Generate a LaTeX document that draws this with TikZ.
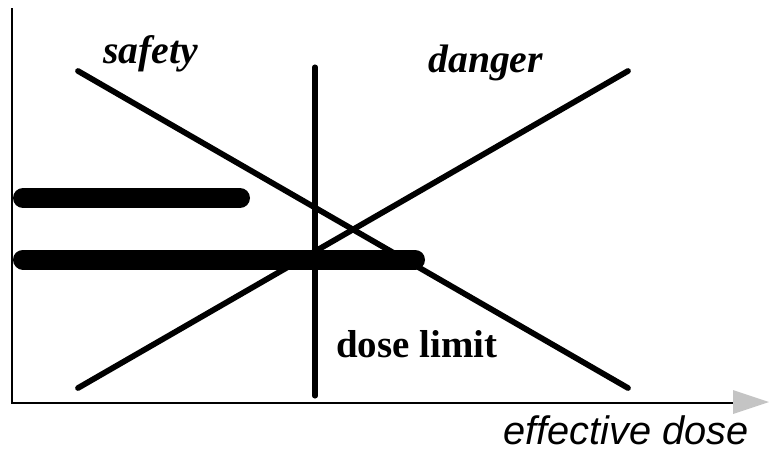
\documentclass[tikz,border=0pt]{standalone}
\usepackage{fontspec}
\setmainfont{Liberation Serif}
\setsansfont{Liberation Sans}
\definecolor{tipgray}{RGB}{196,196,196}
\begin{document}
\begin{tikzpicture}[x=0.75pt,y=-0.75pt,
  axis/.style={line width=2.2pt},
  curve/.style={line width=4.3pt,line cap=round},
  bar/.style={line width=15pt,line cap=round},
  lbl/.style={inner sep=0pt,anchor=base west},
  sflbl/.style={lbl,font=\fontsize{29.8}{31}\selectfont\bfseries\itshape},
  dlbl/.style={lbl,font=\fontsize{29.2}{31}\selectfont\bfseries},
  elbl/.style={lbl,font=\fontsize{29.8}{31}\selectfont\sffamily\itshape}]
\useasboundingbox (0,0) rectangle (769,455);
% axes
\coordinate (o) at (12,403);
\coordinate (ytop) at (12,8);
\coordinate (xend) at (734,403);
\draw[axis] (ytop) -- (o) -- (xend);
\fill[tipgray] (733,390) -- (769,402) -- (733,414) -- cycle;
% lines
\coordinate (s1) at (78,71);
\coordinate (s2) at (628,388);
\coordinate (d1) at (78,388);
\coordinate (d2) at (628,71);
\coordinate (v1) at (315,67);
\coordinate (v2) at (315,396);
\draw[curve] (s1) -- (s2);
\draw[curve] (d1) -- (d2);
\draw[curve,line width=3.8pt] (v1) -- (v2);
% bars
\coordinate (b1a) at (23,198);
\coordinate (b1b) at (240,198);
\coordinate (b2a) at (23,259.5);
\coordinate (b2b) at (415,259.5);
\draw[bar] (b1a) -- (b1b);
\draw[bar] (b2a) -- (b2b);
% labels
\node[sflbl] (safety) at (103,63) {safety};
\node[sflbl] (danger) at (428,72) {danger};
\node[dlbl] (dlim) at (336,357) {dose limit};
\node[elbl] (edose) at (503,444) {effective dose};
\end{tikzpicture}
\end{document}
